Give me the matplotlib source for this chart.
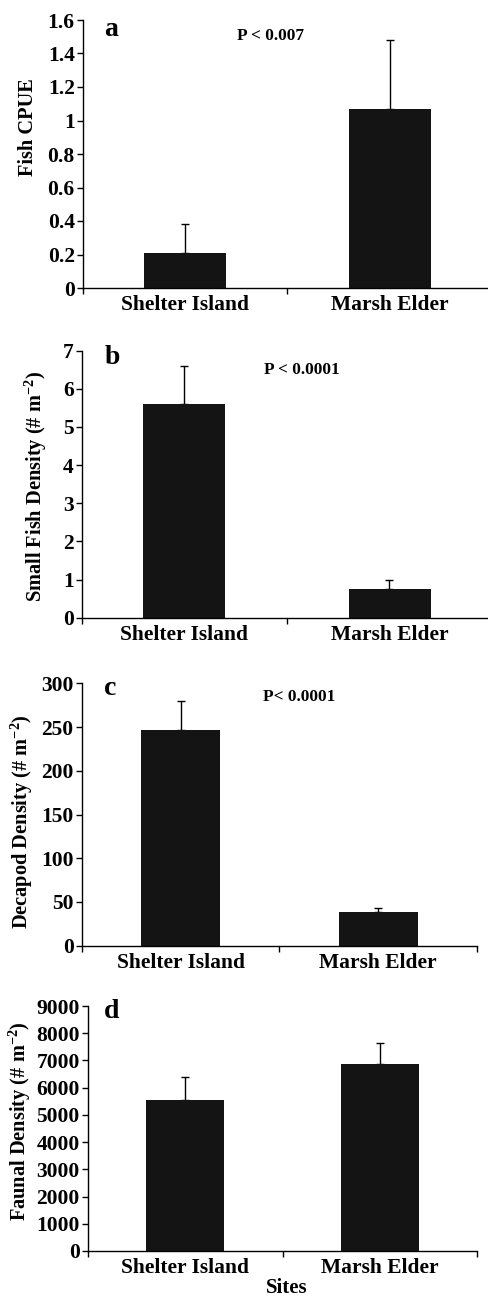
import matplotlib.pyplot as plt
import numpy as np

plt.rcParams["font.family"] = ["Liberation Serif", "DejaVu Serif"]
plt.rcParams["font.weight"] = "bold"
plt.rcParams["mathtext.fontset"] = "custom"
plt.rcParams["mathtext.rm"] = "Liberation Serif:bold"
plt.rcParams["mathtext.default"] = "rm"

SITES = ["Shelter Island", "Marsh Elder"]

FISH_CPUE = [0.21, 1.07]
FISH_CPUE_ERR = [0.17, 0.41]

SMALL_FISH = [5.6, 0.75]
SMALL_FISH_ERR = [1.0, 0.25]

DECAPOD = [246.5, 38.5]
DECAPOD_ERR = [33.5, 5.0]

FAUNAL = [5550, 6880]
FAUNAL_ERR = [830, 770]

W, H = 489, 1299
BAR_COLOR = "#141414"
TICK_FS = 15.5

# values, errors, ylabel, letter, p text, yticks, tick labels,
# axes box in px (left, right, top, bottom), letter pos, p pos, ylabel pos
panels = [
    (FISH_CPUE, FISH_CPUE_ERR, "Fish CPUE", "a", "P < 0.007",
     np.arange(0, 1.61, 0.2), ["0", "0.2", "0.4", "0.6", "0.8", "1", "1.2", "1.4", "1.6"],
     (83, 492, 20, 288), (111, 29), (271, 36), (28, 127)),
    (SMALL_FISH, SMALL_FISH_ERR, r"Small Fish Density (# m$^{-2}$)", "b", "P < 0.0001",
     np.arange(0, 8, 1), [str(i) for i in range(8)],
     (82, 492, 350.7, 617.7), (112, 357), (302, 370), (36, 487)),
    (DECAPOD, DECAPOD_ERR, r"Decapod Density (# m$^{-2}$)", "c", "P< 0.0001",
     np.arange(0, 301, 50), [str(i) for i in range(0, 301, 50)],
     (82, 477, 683.3, 945.7), (110, 688), (299, 697), (22, 822)),
    (FAUNAL, FAUNAL_ERR, r"Faunal Density (# m$^{-2}$)", "d", None,
     np.arange(0, 9001, 1000), [str(i) for i in range(0, 9001, 1000)],
     (88, 477, 1006, 1251), (112, 1012), None, (20, 1121)),
]

fig = plt.figure(figsize=(W / 100, H / 100), dpi=100)

for vals, errs, ylab, letter, ptxt, yticks, ylabels, box, lpos, ppos, ylpos in panels:
    l, r, t, b = box
    ax = fig.add_axes([l / W, 1 - b / H, (r - l) / W, (b - t) / H])
    x = np.arange(len(SITES))
    ax.bar(x, vals, width=0.4, color=BAR_COLOR, zorder=2)
    ax.errorbar(x, vals, yerr=[np.zeros(len(vals)), errs], fmt="none",
                ecolor="black", elinewidth=1, capsize=3, capthick=1, zorder=1)
    ax.set_xlim(-0.5, 1.5)
    ax.set_ylim(yticks[0], yticks[-1])
    ax.set_yticks(yticks)
    ax.set_yticklabels(ylabels, fontsize=TICK_FS, fontweight="bold")
    ax.set_xticks(x)
    ax.set_xticklabels(SITES, fontsize=TICK_FS, fontweight="bold")
    ax.tick_params(axis="x", length=0, pad=5)
    ax.set_xticks([-0.5, 0.5, 1.5], minor=True)
    ax.tick_params(axis="x", which="minor", length=4, width=1, direction="out")
    ax.tick_params(axis="y", length=4, width=1, direction="out", pad=2)
    for s in ["top", "right"]:
        ax.spines[s].set_visible(False)
    ax.spines["left"].set_linewidth(1)
    ax.spines["bottom"].set_linewidth(1)
    fig.text(ylpos[0] / W, 1 - ylpos[1] / H, ylab, rotation=90,
             ha="center", va="center", fontsize=14.7, fontweight="bold")
    fig.text(lpos[0] / W, 1 - lpos[1] / H, letter, fontsize=20,
             fontweight="bold", ha="center", va="center")
    if ppos is not None:
        fig.text(ppos[0] / W, 1 - ppos[1] / H, ptxt, ha="center", va="center",
                 fontsize=12.4, fontweight="bold")

fig.text(287 / W, 1 - 1288 / H, "Sites", ha="center", va="center",
         fontsize=15, fontweight="bold")

fig.savefig("out.png", dpi=100)
